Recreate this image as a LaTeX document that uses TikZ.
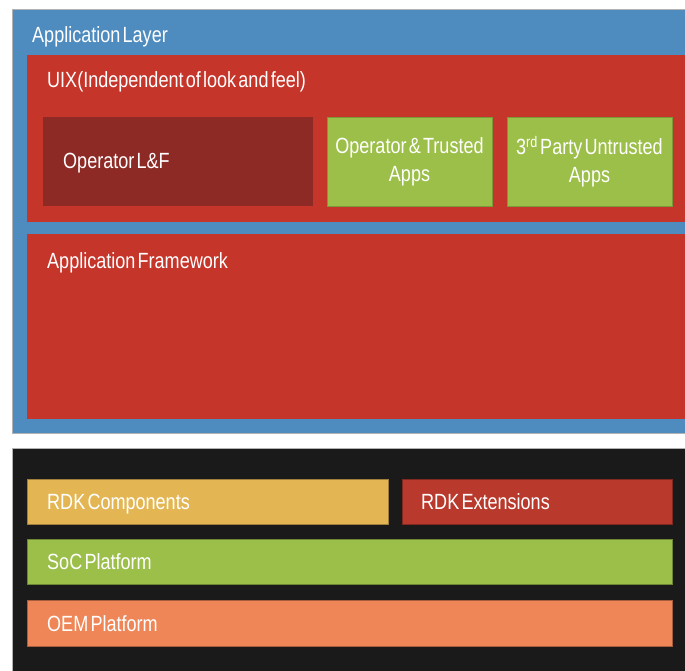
\documentclass[tikz,border=0pt]{standalone}
\usepackage{fontspec}
\setmainfont{Liberation Sans}[FakeStretch=0.82, WordSpace=0.45]
\definecolor{cblue}{HTML}{4E8BBE}
\definecolor{cred}{HTML}{C5352A}
\definecolor{cdark}{HTML}{8E2A26}
\definecolor{cgreen}{HTML}{9BBF49}
\definecolor{cblack}{HTML}{1A1A1A}
\definecolor{cyellow}{HTML}{E3B653}
\definecolor{cext}{HTML}{B93A2D}
\definecolor{corange}{HTML}{EE8657}
\begin{document}
\begin{tikzpicture}[x=1pt,y=-1pt,
  box/.style={rectangle, inner sep=0pt, outer sep=0pt, anchor=north west},
  lbl/.style={inner sep=0pt, anchor=base west, text=white, font=\fontsize{22}{28}\selectfont},
  clbl/.style={inner sep=0pt, text=white, align=center, font=\fontsize{22}{28}\selectfont}]
\useasboundingbox (0,0) rectangle (685,670);
\fill[white] (0,0) rectangle (685,670);
% application layer
\node[box, fill=cblue, draw=gray!60, line width=0.5pt, minimum width=673pt, minimum height=424pt] (app) at (12,9) {};
\node[box, fill=cred, minimum width=658pt, minimum height=167pt] (uix) at (27,55) {};
\node[box, fill=cdark, minimum width=270pt, minimum height=89pt] (olf) at (43,117) {};
\node[box, fill=cgreen, draw=cgreen!80!black, line width=0.5pt, minimum width=165pt, minimum height=89pt] (ota) at (327,117) {};
\node[box, fill=cgreen, draw=cgreen!80!black, line width=0.5pt, minimum width=165pt, minimum height=89pt] (tpa) at (507,117) {};
\node[box, fill=cred, minimum width=658pt, minimum height=185pt] (afw) at (27,234) {};
% platform
\node[box, fill=cblack, draw=gray!60, line width=0.6pt, minimum width=673pt, minimum height=224pt] (plat) at (12,448) {};
\node[box, fill=cyellow, draw=cyellow!70!black, line width=0.5pt, minimum width=361pt, minimum height=45pt] (rdkc) at (27,479) {};
\node[box, fill=cext, draw=cext!70!black, line width=0.5pt, minimum width=270pt, minimum height=45pt] (rdke) at (402,479) {};
\node[box, fill=cgreen, draw=cgreen!70!black, line width=0.5pt, minimum width=645pt, minimum height=45pt] (soc) at (27,539) {};
\node[box, fill=corange, draw=corange!70!black, line width=0.5pt, minimum width=645pt, minimum height=46pt] (oem) at (27,600) {};
% labels
\node[lbl] (tapp) at (32,42) {Application Layer};
\node[lbl] (tuix) at (47,87) {UIX(Independent of look and feel)};
\node[lbl] (tolf) at (63,168) {Operator L\&F};
\node[clbl] (tota) at (ota.center) {Operator \& Trusted\\Apps};
\node[clbl] (ttpa) at (tpa.center) {3\textsuperscript{rd} Party Untrusted\\Apps};
\node[lbl] (tafw) at (47,268) {Application Framework};
\node[lbl] (trdkc) at (47,509.5) {RDK Components};
\node[lbl] (trdke) at (421,509.5) {RDK Extensions};
\node[lbl] (tsoc) at (47,569.5) {SoC Platform};
\node[lbl] (toem) at (47,631) {OEM Platform};
\end{tikzpicture}
\end{document}
